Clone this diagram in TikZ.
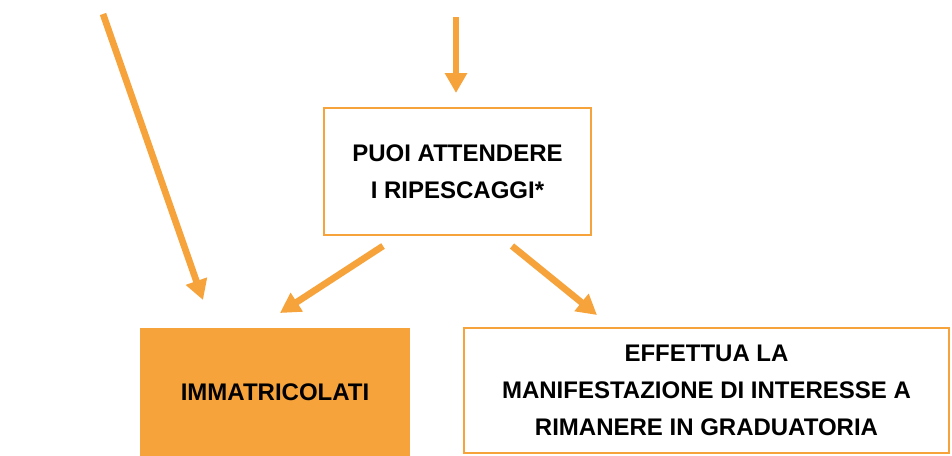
\documentclass[tikz,border=0pt]{standalone}
\usepackage{xcolor}
\usepackage{fontspec}
\setmainfont{Liberation Sans}
\usepackage{tikz}
\usetikzlibrary{arrows.meta,positioning}
\definecolor{ateneo}{HTML}{F6A33B}

\begin{document}
\begin{tikzpicture} [x=0.75pt, y=-0.75pt,
       stepnode/.style 2 args = {rectangle, minimum width=#1, minimum height=#2,
                                 inner sep=0pt, align=center, text=black,
                                 font=\bfseries\fontsize{18}{27.5}\selectfont},
       whitebox/.style 2 args = {stepnode={#1}{#2}, draw=ateneo, line width=1.5pt, fill=white},
       orangebox/.style 2 args = {stepnode={#1}{#2}, fill=ateneo},
       flow/.style = {draw=ateneo, line width=5pt,
                      -{Triangle[length=15pt, width=16pt]}}]
	\useasboundingbox (0,0) rectangle (952,455);
	%% Boxes
	\node [whitebox={200pt}{95pt}] (ripescaggi) at (457.5,171.5) {PUOI ATTENDERE\\I RIPESCAGGI*};
	\node [orangebox={202.5pt}{96pt}] (immatricolati) at (275,392) {IMMATRICOLATI};
	\node [whitebox={364pt}{94pt}] (manifestazione) at (706.5,390.5)
	      {EFFETTUA LA\\MANIFESTAZIONE DI INTERESSE A\\RIMANERE IN GRADUATORIA};
	%% Arrow ends
	\coordinate (in-left) at (103,14);
	\coordinate (in-left-end) at (203,300);
	\coordinate (in-top) at (456,17);
	\coordinate (in-top-end) at (456,93);
	\coordinate (out-left) at (383,246);
	\coordinate (out-left-end) at (280,313);
	\coordinate (out-right) at (512,246);
	\coordinate (out-right-end) at (597,315);
	%% Arrows
	\draw [flow] (in-left) -- (in-left-end);
	\draw [flow] (in-top) -- (in-top-end);
	\draw [flow] (out-left) -- (out-left-end);
	\draw [flow] (out-right) -- (out-right-end);
\end{tikzpicture}
\end{document}
